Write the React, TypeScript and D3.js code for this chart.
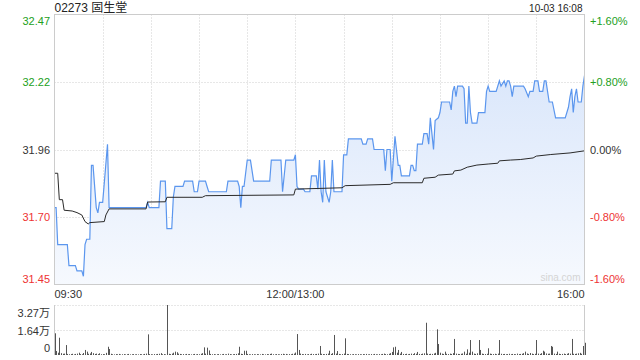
import React from 'react';
import * as d3 from 'd3';

const title = '02273 固生堂';
const timestamp = '10-03 16:08';
const prevClose = 31.96;
const rangePct = 0.016;
const pctLevels = [0.016, 0.008, 0, -0.008, -0.016];
const priceTickLabels = ['32.47', '32.22', '31.96', '31.70', '31.45'];
const pctTickLabels = ['+1.60%', '+0.80%', '0.00%', '-0.80%', '-1.60%'];
const timeLabels = ['09:30', '12:00/13:00', '16:00'];
const timeLabelMinutes = [0, 150, 330];
const volTickLabels = ['3.27万', '1.64万', '0'];
const volTickValues = [32700, 16350, 0];
const totalMinutes = 330;

// price line: [minute since 09:30 (trading minutes), price]
const pricePoints: [number, number][] = [
  [0, 31.74], [1, 31.74], [2, 31.6], [8, 31.6], [9, 31.52], [13, 31.52], [14, 31.5], [17, 31.5], [18, 31.48],
  [19, 31.6], [20, 31.62], [22, 31.62], [23, 31.9], [24, 31.9], [26, 31.74], [27, 31.72], [28, 31.76], [30, 31.76],
  [33, 31.98], [34, 31.74], [57, 31.74], [58, 31.76], [59, 31.74], [65, 31.74], [66, 31.84], [69, 31.84],
  [70, 31.66], [73, 31.66], [74, 31.78], [75, 31.82], [80, 31.82], [81, 31.84], [86, 31.84], [87, 31.8], [89, 31.8],
  [90, 31.84], [94, 31.84], [95, 31.82], [96, 31.8], [107, 31.8], [108, 31.84], [114, 31.84], [115, 31.82],
  [116, 31.74], [117, 31.82], [118, 31.82], [120, 31.92], [122, 31.92], [124, 31.84], [134, 31.84], [135, 31.92],
  [141, 31.92], [142, 31.8], [144, 31.92], [149, 31.92], [150, 31.94], [151, 31.82], [152, 31.81], [155, 31.81],
  [156, 31.8], [159, 31.8], [160, 31.86], [163, 31.86], [164, 31.81], [165, 31.92], [166, 31.8], [167, 31.76],
  [168, 31.92], [169, 31.8], [170, 31.78], [171, 31.76], [172, 31.8], [173, 31.92], [174, 31.8], [179, 31.8],
  [180, 31.94], [182, 31.94], [183, 32.0], [191, 32.0], [192, 31.98], [194, 31.98], [195, 32.0], [198, 32.0],
  [199, 31.96], [205, 31.96], [206, 31.88], [207, 31.96], [209, 31.96], [210, 31.84], [212, 32.01], [214, 31.9],
  [215, 31.9], [216, 31.86], [221, 31.86], [222, 31.9], [223, 31.9], [224, 31.88], [225, 31.88], [226, 31.98],
  [229, 31.98], [230, 32.02], [232, 32.02], [233, 31.98], [234, 32.08], [235, 32.02], [236, 31.96], [237, 32.07],
  [239, 32.08], [240, 32.1], [241, 32.14], [246, 32.14], [247, 32.11], [248, 32.18], [249, 32.2], [250, 32.16],
  [251, 32.2], [254, 32.2], [255, 32.19], [256, 32.06], [257, 32.06], [258, 32.2], [259, 32.1], [260, 32.06],
  [263, 32.06], [264, 32.1], [268, 32.1], [269, 32.18], [270, 32.2], [271, 32.18], [275, 32.18], [277, 32.22],
  [278, 32.2], [280, 32.22], [281, 32.2], [282, 32.22], [283, 32.22], [284, 32.2], [285, 32.16], [286, 32.2],
  [292, 32.2], [293, 32.19], [295, 32.16], [296, 32.18], [298, 32.18], [299, 32.22], [301, 32.22], [302, 32.18],
  [304, 32.18], [305, 32.22], [306, 32.22], [308, 32.14], [310, 32.14], [312, 32.08], [318, 32.08], [320, 32.12],
  [321, 32.16], [322, 32.19], [323, 32.1], [324, 32.16], [325, 32.19], [326, 32.14], [328, 32.14], [329, 32.2],
  [330, 32.24],
];

// average price line
const avgPoints: [number, number][] = [
  [0, 31.87], [2, 31.87], [3, 31.77], [5, 31.77], [6, 31.73], [11, 31.727], [14, 31.721], [17, 31.712],
  [19, 31.687], [21, 31.678], [22, 31.683], [31, 31.687], [32, 31.712], [34, 31.735], [57, 31.735], [58, 31.761],
  [69, 31.762], [70, 31.779], [92, 31.779], [94, 31.785], [149, 31.788], [150, 31.81], [179, 31.815],
  [181, 31.823], [209, 31.828], [211, 31.834], [229, 31.834], [230, 31.851], [237, 31.855], [239, 31.863],
  [248, 31.867], [249, 31.879], [253, 31.882], [257, 31.893], [263, 31.901], [270, 31.905], [276, 31.908],
  [277, 31.917], [284, 31.92], [290, 31.922], [298, 31.928], [300, 31.935], [309, 31.941], [321, 31.947],
  [330, 31.955],
];

// per-minute volume (shares)
const volumes = [
  14200, 2600, 1500, 11300, 1200, 800, 900, 6500, 700, 500, 600, 800, 400, 700, 900, 1500, 600, 500, 1300, 3300, 2200, 800, 1000, 2000, 1200, 700, 900, 600, 1100, 500,
  600, 500, 1400, 5400, 3900, 800, 500, 400, 600, 500, 700, 400, 500, 600, 400, 500, 700, 400, 500, 600, 400, 500, 400, 600, 500, 400, 700, 900, 13500, 600,
  500, 400, 600, 500, 700, 800, 1200, 500, 600, 400, 32700, 800, 600, 900, 1500, 2200, 1800, 900, 700, 500, 600, 400, 700, 500, 600, 400, 500, 700, 400, 600,
  500, 800, 1200, 5000, 900, 4800, 3000, 700, 500, 600, 400, 500, 600, 400, 500, 700, 400, 500, 900, 600, 400, 500, 600, 700, 1100, 5400, 800, 600, 2800, 2800,
  700, 500, 400, 600, 500, 400, 600, 500, 400, 700, 500, 400, 600, 500, 700, 900, 500, 400, 600, 500, 400, 600, 800, 500, 700, 400, 600, 500, 800, 900,
  1600, 13700, 3300, 900, 600, 500, 700, 400, 600, 500, 800, 600, 500, 700, 900, 5900, 800, 600, 500, 700, 900, 2800, 700, 1200, 13100, 900, 2600, 700, 500, 600,
  900, 10900, 700, 600, 500, 400, 600, 500, 400, 600, 500, 400, 600, 500, 700, 400, 500, 600, 400, 700, 500, 400, 600, 500, 700, 900, 600, 500, 800, 1200,
  2000, 5000, 5400, 1500, 3300, 900, 2000, 700, 600, 800, 500, 700, 900, 600, 1200, 800, 2000, 700, 600, 900, 1100, 21100, 900, 600, 800, 700, 1000, 1400, 16800, 7200,
  1500, 900, 700, 2200, 800, 600, 900, 700, 1200, 10500, 900, 700, 600, 800, 1000, 2200, 800, 3700, 1500, 9800, 2200, 900, 700, 1100, 9800, 3300, 900, 700, 600, 800,
  4400, 900, 700, 600, 800, 500, 900, 9800, 800, 600, 700, 500, 600, 800, 500, 700, 600, 500, 900, 600, 700, 800, 1200, 2200, 1000, 700, 1300, 900, 600, 800,
  9800, 900, 700, 1200, 2800, 2200, 1000, 800, 900, 5900, 5400, 900, 700, 2200, 800, 600, 700, 900, 600, 800, 1200, 900, 10500, 800, 700, 900, 1100, 1400, 800, 5900, 8000,
];

const W = 640;
const H = 360;
const L = 54.5;
const R = 584.5;
const PT = 14.5;
const PB = 284.5;
const VT = 305;
const VB = 355;

const FONT = '"Liberation Sans", Arial, "Noto Sans CJK SC", sans-serif';
const GREEN = '#22a022';
const RED = '#ee3333';
const DARK = '#333333';
const GRID = '#cfcfcf';
const BORDER = '#cccccc';

export default function App() {
  const x = d3.scaleLinear().domain([0, totalMinutes]).range([L, R]);
  const y = d3
    .scaleLinear()
    .domain([prevClose * (1 - rangePct), prevClose * (1 + rangePct)])
    .range([PB, PT]);
  const yv = d3.scaleLinear().domain([0, volTickValues[0]]).range([VB, VT]);

  const line = d3
    .line<[number, number]>()
    .x((d) => x(d[0]))
    .y((d) => y(d[1]));
  const area = d3
    .area<[number, number]>()
    .x((d) => x(d[0]))
    .y0(PB)
    .y1((d) => y(d[1]));

  const vGrid = d3.range(30, totalMinutes, 30);
  const levelColor = (p: number) => (p > 0 ? GREEN : p < 0 ? RED : DARK);

  return (
    <svg
      width={W}
      height={H}
      viewBox={`0 0 ${W} ${H}`}
      style={{ position: 'absolute', left: 0, top: 0, background: '#fff' }}
      fontFamily={FONT}
    >
      <defs>
        <linearGradient id="pfill" gradientUnits="userSpaceOnUse" x1="0" y1={PT} x2="0" y2={PB}>
          <stop offset="0%" stopColor="#d3e2fa" />
          <stop offset="100%" stopColor="#f6f9fe" />
        </linearGradient>
      </defs>

      <text x={L} y={12} fontSize={12} fill="#222">{title}</text>
      <text x={R - 2} y={12} fontSize={10} fill="#222" textAnchor="end">{timestamp}</text>

      {/* price grid */}
      {pctLevels.slice(1, 4).map((p, i) => (
        <line key={'h' + i} x1={L} x2={R} y1={Math.round(y(prevClose * (1 + p))) + 0.5} y2={Math.round(y(prevClose * (1 + p))) + 0.5}
          stroke={GRID} strokeDasharray="1,2" />
      ))}
      {vGrid.map((m) => (
        <line key={'v' + m} x1={Math.round(x(m)) + 0.5} x2={Math.round(x(m)) + 0.5} y1={PT} y2={PB}
          stroke={GRID} strokeDasharray="1,2" />
      ))}

      <path d={area(pricePoints) || ''} fill="url(#pfill)" />
      <path d={line(pricePoints) || ''} fill="none" stroke="#5b96ee" strokeWidth={1.2} />
      <path d={line(avgPoints) || ''} fill="none" stroke="#2a2a2a" strokeWidth={1} />

      <rect x={L} y={PT} width={R - L} height={PB - PT} fill="none" stroke={BORDER} />

      <text x={R - 4} y={PB - 4} fontSize={10} fill="#d4d4d4" textAnchor="end">sina.com</text>

      {/* price axis labels */}
      {pctLevels.map((p, i) => {
        const yy = y(prevClose * (1 + p));
        const dy = i === 0 ? 10 : i === pctLevels.length - 1 ? -2 : 4;
        return (
          <g key={'l' + i}>
            <text x={50} y={yy + dy} fontSize={11} fill={levelColor(p)} textAnchor="end">{priceTickLabels[i]}</text>
            <text x={590} y={yy + dy} fontSize={11} fill={levelColor(p)}>{pctTickLabels[i]}</text>
          </g>
        );
      })}

      {/* time labels */}
      {timeLabels.map((t, i) => (
        <text key={t} x={x(timeLabelMinutes[i])} y={298} fontSize={11} fill={DARK}
          textAnchor={i === 0 ? 'start' : i === timeLabels.length - 1 ? 'end' : 'middle'}>{t}</text>
      ))}

      {/* volume panel */}
      {volTickValues.slice(0, 2).map((v, i) => (
        <line key={'vg' + i} x1={L} x2={R} y1={yv(v) + 0.5} y2={yv(v) + 0.5} stroke={GRID} strokeDasharray="1,2" />
      ))}
      <line x1={L} x2={L} y1={VT} y2={VB} stroke={BORDER} />
      <line x1={R} x2={R} y1={VT} y2={VB} stroke={BORDER} />
      {volumes.map((v, i) => (
        <rect key={'b' + i} x={Math.round(x(i))} y={yv(v)} width={1} height={VB - yv(v)} fill="#555" />
      ))}
      {volTickLabels.map((t, i) => {
        const yy = yv(volTickValues[i]);
        const dy = i === 0 ? 12 : i === volTickLabels.length - 1 ? -3 : 5;
        return (
          <text key={'vl' + i} x={50} y={yy + dy} fontSize={11} fill={DARK} textAnchor="end">{t}</text>
        );
      })}
    </svg>
  );
}
